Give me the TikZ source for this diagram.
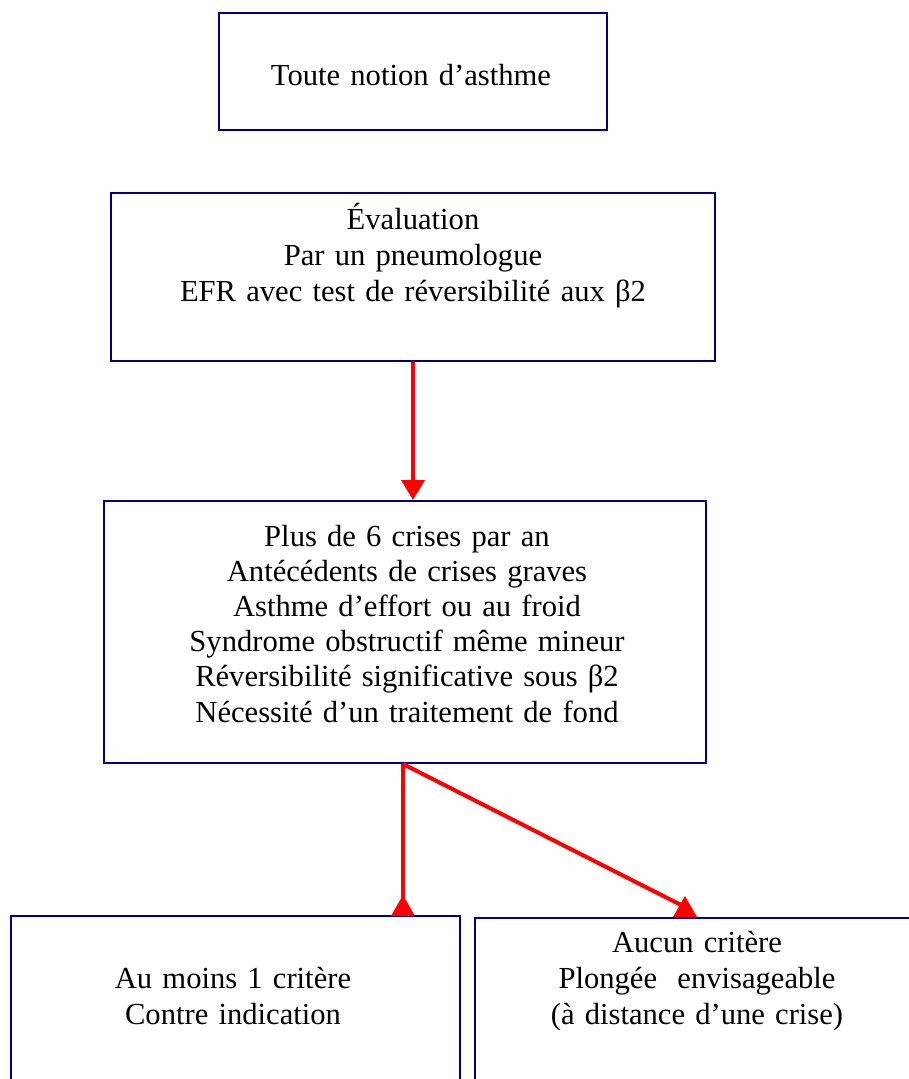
\documentclass[tikz,border=0pt]{standalone}
\usepackage{fontspec}
\setmainfont{Liberation Serif}
\usetikzlibrary{arrows.meta}
\definecolor{boxblue}{RGB}{0,0,128}

\begin{document}
\begin{tikzpicture}[x=1pt, y=-1pt,
    box/.style={draw=boxblue, line width=2pt, rectangle, inner sep=0pt},
    txt/.style={font=\fontsize{30.6pt}{36pt}\selectfont, text width=580pt,
      align=center, inner sep=0pt, anchor=base},
    link/.style={draw=red, line width=4pt}
    ]
    \useasboundingbox (0,0) rectangle (909,1079);
    \clip (0,0) rectangle (909,1079);

    \node[box, minimum width=388pt, minimum height=117pt] (notion) at (413,71.5) {};
    \node[box, minimum width=604pt, minimum height=168pt] (eval) at (413,277) {};
    \node[box, minimum width=602pt, minimum height=262pt] (crit) at (405,632) {};
    \node[box, minimum width=449pt, minimum height=300pt] (contre) at (235.5,1066) {};
    \node[box, minimum width=485pt, minimum height=300pt] (ok) at (717.5,1068) {};

    \node[txt] (notiontxt) at (411,85) {Toute notion d’asthme};
    \node[txt] (evaltxt) at (413,229) {Évaluation\\Par un pneumologue\\EFR avec test de réversibilité aux β2};
    \node[txt, font=\fontsize{30.6pt}{35.2pt}\selectfont] (crittxt) at (407,546) {Plus de 6 crises par an\\
      Antécédents de crises graves\\Asthme d’effort ou au froid\\
      Syndrome obstructif même mineur\\Réversibilité significative sous β2\\
      Nécessité d’un traitement de fond};
    \node[txt] (contretxt) at (233,988) {Au moins 1 critère\\Contre indication};
    \node[txt] (oktxt) at (697,952) {Aucun critère\\Plongée\ \ envisageable\\(à distance d’une crise)};

    \coordinate (tipL) at (403,916);
    \coordinate (tipR) at (685,917);

    \draw[link, -{Triangle[width=23pt,length=20pt]}] (eval.south) -- (eval.south |- crit.north);
    \draw[link] (crit.south -| tipL) -- (tipL);
    \draw[link] (crit.south -| tipL) -- ([yshift=10pt]tipR);
    \foreach \t in {tipL,tipR}
      \fill[red] (\t) ++(-12,0) -- ++(12,-21) -- ++(12,21) -- cycle;
  \end{tikzpicture}
\end{document}
